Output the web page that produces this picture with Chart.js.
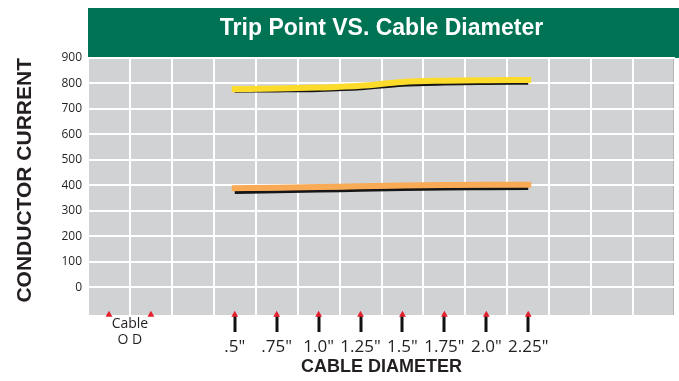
<!DOCTYPE html>
<html>
<head>
<meta charset="utf-8">
<title>Trip Point VS. Cable Diameter</title>
<script src="https://cdn.jsdelivr.net/npm/chart.js@4.4.1/dist/chart.umd.min.js"></script>
<style>
  html, body { margin: 0; padding: 0; background: #ffffff; }
  #wrap { width: 679px; height: 381px; position: relative; }
</style>
</head>
<body>
<div id="wrap"><canvas id="chart"></canvas></div>
<script>
// Column slots along the cable-diameter axis (14 equal columns)
const slotCount = 14;
const odSlots = [0, 1];
const odLabel = ['Cable', 'O D'];
const sizeSlots = [3, 4, 5, 6, 7, 8, 9, 10];
const sizeLabels = ['.5"', '.75"', '1.0"', '1.25"', '1.5"', '1.75"', '2.0"', '2.25"'];
const yTickValues = [0, 100, 200, 300, 400, 500, 600, 700, 800, 900];

// Trip point curves (conductor current) per cable size
const yellowTrip = [778, 780, 784, 791, 806, 811, 813, 814];
const yellowEdge = [770, 771, 773, 779, 793, 798, 800, 801];
const orangeTrip = [389, 391, 394, 397, 400, 402, 403, 403];
const orangeEdge = [372, 375, 378, 381, 384, 386, 387, 388];

const INK = '#231f20';
const GREEN = '#007355';
const PLOT_GRAY = '#d1d2d4';

const toPoints = vals => vals.map((v, i) => ({ x: sizeSlots[i], y: v }));
const markerPoints = odSlots.concat(sizeSlots).map(s => ({ x: s, y: -107 }));

const xTickValues = [];
for (let v = -0.5; v <= slotCount - 0.5; v += 0.5) xTickValues.push(v);

const tickValue = ctx => (ctx && ctx.tick) ? ctx.tick.value : NaN;
const isBoundary = v => Math.abs(v % 1) === 0.5;
const isOdLabelSlot = v => v === (odSlots[0] + odSlots[1]) / 2;

const panelPlugin = {
  id: 'panel',
  beforeDraw(chart) {
    const { ctx, chartArea: a } = chart;
    ctx.save();
    ctx.fillStyle = GREEN;
    ctx.fillRect(a.left, 8, chart.width - a.left, a.top - 8);
    ctx.fillStyle = PLOT_GRAY;
    ctx.fillRect(a.left, a.top, a.right - a.left, a.bottom - a.top);
    ctx.fillStyle = '#b3b4b6';
    ctx.fillRect(a.right - 2, a.top, 2, a.bottom - a.top);
    ctx.restore();
  }
};

const odFont = { family: '"Open Sans", sans-serif', size: 14, lineHeight: 16 / 14 };
const sizeFont = { family: '"Open Sans", sans-serif', size: 17, lineHeight: 1.2 };

new Chart(document.getElementById('chart'), {
  type: 'line',
  data: {
    datasets: [
      {
        data: markerPoints,
        showLine: false,
        pointStyle: 'triangle',
        pointRadius: 4,
        pointBackgroundColor: '#e3202b',
        pointBorderWidth: 0,
        clip: false,
        order: 0
      },
      {
        data: toPoints(yellowTrip),
        borderColor: '#fddb2a',
        borderWidth: 6,
        borderCapStyle: 'square',
        cubicInterpolationMode: 'monotone',
        pointRadius: 0,
        order: 1
      },
      {
        data: toPoints(yellowEdge),
        borderColor: '#151515',
        borderWidth: 3,
        borderCapStyle: 'butt',
        cubicInterpolationMode: 'monotone',
        pointRadius: 0,
        order: 2
      },
      {
        data: toPoints(orangeTrip),
        borderColor: '#f9aa55',
        borderWidth: 6,
        borderCapStyle: 'square',
        cubicInterpolationMode: 'monotone',
        pointRadius: 0,
        order: 1
      },
      {
        data: toPoints(orangeEdge),
        borderColor: '#151515',
        borderWidth: 3,
        borderCapStyle: 'butt',
        cubicInterpolationMode: 'monotone',
        pointRadius: 0,
        order: 2
      }
    ]
  },
  options: {
    responsive: true,
    maintainAspectRatio: false,
    animation: false,
    layout: { padding: { top: 8, left: 0, right: 0, bottom: 0 } },
    plugins: {
      legend: { display: false },
      tooltip: { enabled: false },
      title: {
        display: true,
        fullSize: false,
        text: 'Trip Point VS. Cable Diameter',
        color: '#ffffff',
        font: { family: '"Liberation Sans Narrow", "Liberation Sans", Arial, sans-serif', size: 23, weight: 'bold', lineHeight: 1.2 },
        padding: { top: 7, bottom: 15.4 }
      }
    },
    scales: {
      x: {
        type: 'linear',
        position: 'bottom',
        min: -0.5,
        max: slotCount - 0.5,
        afterBuildTicks: axis => { axis.ticks = xTickValues.map(v => ({ value: v })); },
        afterFit: axis => { axis.height = 66; },
        border: { display: false },
        grid: {
          drawTicks: true,
          tickLength: 17,
          lineWidth: 2,
          color: ctx => isBoundary(tickValue(ctx)) ? '#ffffff' : 'rgba(0,0,0,0)',
          tickColor: ctx => sizeSlots.includes(tickValue(ctx)) ? '#111111' : 'rgba(0,0,0,0)',
          tickWidth: 3
        },
        ticks: {
          autoSkip: false,
          maxRotation: 0,
          minRotation: 0,
          padding: -15.5,
          color: INK,
          font: ctx => isOdLabelSlot(tickValue(ctx)) ? odFont : sizeFont,
          callback: value => {
            if (isOdLabelSlot(value)) return odLabel;
            const i = sizeSlots.indexOf(value);
            return i >= 0 ? ['', sizeLabels[i]] : '';
          }
        },
        title: {
          display: true,
          text: 'CABLE DIAMETER',
          color: INK,
          font: { family: '"Liberation Sans", Arial, sans-serif', size: 18, weight: 'bold', lineHeight: 1.2 },
          padding: { top: 0, bottom: 3 }
        }
      },
      y: {
        min: -108,
        max: 900,
        afterBuildTicks: axis => { axis.ticks = yTickValues.map(v => ({ value: v })); },
        afterFit: axis => { axis.width = 88; },
        border: { display: false },
        grid: {
          drawTicks: false,
          color: '#ffffff',
          lineWidth: 2
        },
        ticks: {
          padding: 6,
          color: INK,
          font: { family: '"Open Sans", sans-serif', size: 12 }
        },
        title: {
          display: true,
          text: 'CONDUCTOR CURRENT',
          align: 'end',
          color: INK,
          font: { family: '"Liberation Sans", Arial, sans-serif', size: 21, weight: 'bold', lineHeight: 1.2 },
          padding: { top: 12.4, bottom: 0 }
        }
      }
    }
  },
  plugins: [panelPlugin]
});
</script>
</body>
</html>
